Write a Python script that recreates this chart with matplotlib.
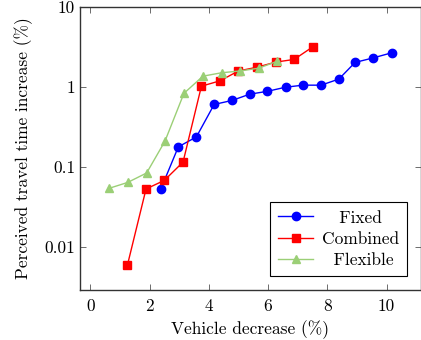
import matplotlib
matplotlib.use('Agg')
import matplotlib.pyplot as plt
from matplotlib.ticker import FixedLocator, FixedFormatter, NullLocator

plt.rcParams['font.family'] = 'serif'
plt.rcParams['font.serif'] = ['cmr10', 'DejaVu Serif']
plt.rcParams['mathtext.fontset'] = 'cm'
plt.rcParams['axes.unicode_minus'] = False

# data
fixed_x = [2.38, 2.97, 3.58, 4.18, 4.78, 5.38, 5.98, 6.59, 7.18, 7.79, 8.39, 8.94, 9.55, 10.17]
fixed_y = [0.053, 0.178, 0.237, 0.603, 0.676, 0.81, 0.88, 0.99, 1.05, 1.05, 1.25, 2.02, 2.3, 2.66]

comb_x = [1.25, 1.88, 2.50, 3.13, 3.75, 4.38, 5.0, 5.63, 6.26, 6.88, 7.51]
comb_y = [0.0059, 0.053, 0.068, 0.115, 1.02, 1.19, 1.58, 1.76, 2.04, 2.2, 3.16]

flex_x = [0.63, 1.26, 1.9, 2.52, 3.16, 3.80, 4.43, 5.06, 5.68, 6.3]
flex_y = [0.054, 0.064, 0.084, 0.21, 0.83, 1.36, 1.5, 1.58, 1.71, 2.08]

xticks = [0, 2, 4, 6, 8, 10]
yticks = [0.01, 0.1, 1, 10]
ytick_labels = ['0.01', '0.1', '1', '10']

fig = plt.figure(figsize=(4.21, 3.40), dpi=100)
ax = fig.add_axes([0.19, 0.147, 0.809, 0.833])

ax.plot(fixed_x, fixed_y, color='#0000ff', marker='o', ms=6, lw=1, label='   Fixed')
ax.plot(comb_x, comb_y, color='#ff0000', marker='s', ms=5.8, lw=1, label='Combined')
ax.plot(flex_x, flex_y, color='#9bcf76', marker='^', ms=5.5, lw=1, label='  Flexible')

ax.set_yscale('log')
ax.set_xlim(-0.35, 11.15)
ax.set_ylim(0.0029, 10)
ax.xaxis.set_major_locator(FixedLocator(xticks))
ax.yaxis.set_major_locator(FixedLocator(yticks))
ax.yaxis.set_major_formatter(FixedFormatter(ytick_labels))
ax.yaxis.set_minor_locator(NullLocator())
ax.tick_params(direction='in', length=4, width=0.6, top=True, right=True,
               labelsize=12.5, color='#555555')
ax.tick_params(axis='x', pad=6)
for s in ax.spines.values():
    s.set_linewidth(1.0)
    s.set_color('#333333')

ax.set_xlabel('Vehicle decrease (%)', fontsize=12.5, labelpad=5)
ax.set_ylabel('Perceived travel time increase (%)', fontsize=12.5, labelpad=8)

leg = ax.legend(loc='lower right', bbox_to_anchor=(0.959, 0.049), borderaxespad=0,
                fontsize=12.5, fancybox=False, framealpha=1, edgecolor='black',
                handlelength=2.0, borderpad=0.45, labelspacing=0.35,
                handletextpad=0.5)
leg.get_frame().set_linewidth(0.8)

fig.savefig('out.png', dpi=100)
